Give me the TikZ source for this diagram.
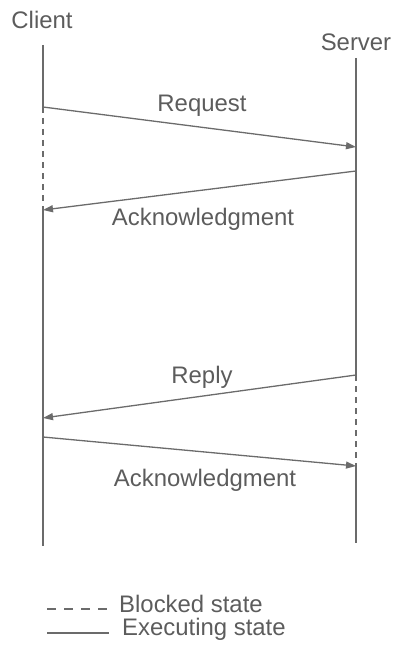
\documentclass[tikz,border=0pt]{standalone}
\usepackage{fontspec}
\setmainfont{Liberation Sans}
\usetikzlibrary{arrows.meta}
\definecolor{ink}{gray}{0.42}
\definecolor{txt}{gray}{0.36}
\begin{document}
\begin{tikzpicture}[x=1bp,y=-1bp,
  lifeline/.style={draw=ink,line width=1.3bp},
  blocked/.style={draw=ink,line width=1.3bp,dash pattern=on 6bp off 5bp},
  msg/.style={draw=ink,line width=1.3bp,-{Triangle[length=10bp,width=7bp]}},
  lbl/.style={text=txt,font=\fontsize{24}{28}\selectfont,inner sep=0pt}]
\useasboundingbox (0,0) rectangle (396,645);

% participants
\node[lbl] (client) at (42,20) {Client};
\node[lbl] (server) at (356,42) {Server};

% client timeline points
\coordinate (c0) at (43,45);
\coordinate (c1) at (43,107);
\coordinate (c2) at (43,210);
\coordinate (c3) at (43,418);
\coordinate (c4) at (43,437);
\coordinate (c5) at (43,546);

% server timeline points
\coordinate (s0) at (356,58);
\coordinate (s1) at (356,147);
\coordinate (s2) at (356,171);
\coordinate (s3) at (356,375);
\coordinate (s4) at (356,466);
\coordinate (s5) at (356,543);

% lifelines
\draw[lifeline] (c0) -- (c1);
\draw[blocked] (c1) -- (c2);
\draw[lifeline] (c2) -- (c5);
\draw[lifeline] (s0) -- (s3);
\draw[blocked] (s3) -- (s4);
\draw[lifeline] (s4) -- (s5);

% messages
\draw[msg] (c1) -- (s1);
\draw[msg] (s2) -- (c2);
\draw[msg] (s3) -- (c3);
\draw[msg] (c4) -- (s4);

\node[lbl] (req) at (202,106) {Request};
\node[lbl] (ack1) at (203,219) {Acknowledgment};
\node[lbl] (rep) at (202,377) {Reply};
\node[lbl] (ack2) at (205,480) {Acknowledgment};

% legend
\coordinate (lb0) at (47,609);
\coordinate (lb1) at (108,609);
\coordinate (le0) at (47,633);
\coordinate (le1) at (109,633);
\draw[draw=ink,line width=1.3bp,dash pattern=on 9bp off 8bp] (lb0) -- (lb1);
\draw[lifeline] (le0) -- (le1);
\node[lbl,anchor=west] (blk) at (119,604) {Blocked state};
\node[lbl,anchor=west] (exe) at (122,629) {Executing state};
\end{tikzpicture}
\end{document}
